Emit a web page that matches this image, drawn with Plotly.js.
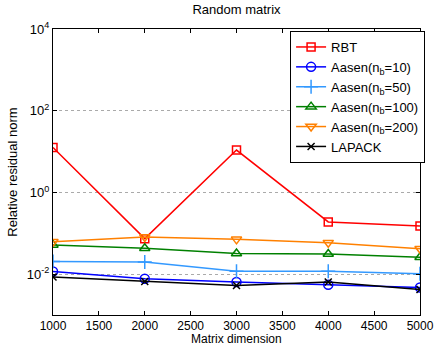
<!DOCTYPE html>
<html><head><meta charset="utf-8">
<script src="https://cdn.plot.ly/plotly-3.0.1.min.js"></script>
<style>html,body{margin:0;padding:0;background:#fff}#chart{width:437px;height:348px}</style>
</head><body><div id="chart"></div>
<script>
var sizes = [1000, 2000, 3000, 4000, 5000];
var rbt = [12.6, 0.074, 10.9, 0.19, 0.15];
var aasen10 = [0.0116, 0.0077, 0.0064, 0.0055, 0.0047];
var aasen50 = [0.0205, 0.0199, 0.0118, 0.0118, 0.0102];
var aasen100 = [0.052, 0.043, 0.032, 0.031, 0.026];
var aasen200 = [0.062, 0.081, 0.071, 0.059, 0.042];
var lapack = [0.0085, 0.0066, 0.0053, 0.0064, 0.0042];
var yTickVals = [1e-2, 1, 1e2, 1e4];
var yTickText = ['10<sup>-2</sup>', '10<sup>0</sup>', '10<sup>2</sup>', '10<sup>4</sup>'];
var xTickVals = [1000, 1500, 2000, 2500, 3000, 3500, 4000, 4500, 5000];

function tr(name, y, color, symbol, size) {
  return {x: sizes, y: y, name: name, type: 'scatter', mode: 'lines+markers',
    line: {color: color, width: 1.5},
    marker: {symbol: symbol, size: size, color: color, line: {color: color, width: 1.5}}};
}
var data = [
  tr('RBT', rbt, '#ff0000', 'square-open', 8),
  tr('Aasen(n<sub>b</sub>=10)', aasen10, '#0000ff', 'circle-open', 9),
  tr('Aasen(n<sub>b</sub>=50)', aasen50, '#3399ff', 'cross-thin-open', 10),
  tr('Aasen(n<sub>b</sub>=100)', aasen100, '#008000', 'triangle-up-open', 9),
  tr('Aasen(n<sub>b</sub>=200)', aasen200, '#ff8000', 'triangle-down-open', 9),
  tr('LAPACK', lapack, '#000000', 'x-thin-open', 7)
];
var layout = {
  width: 437, height: 348,
  margin: {l: 53, r: 17, t: 29, b: 33},
  paper_bgcolor: '#fff', plot_bgcolor: '#fff',
  font: {family: 'Liberation Sans, Arial, sans-serif', size: 13, color: '#000'},
  title: {text: 'Random matrix', x: 0.5, xanchor: 'center', xref: 'paper', y: 0.985, yanchor: 'top', font: {size: 13}},
  showlegend: true,
  legend: {x: 0.646, y: 0.993, xanchor: 'left', yanchor: 'top', bgcolor: '#fff', bordercolor: '#000', borderwidth: 1,
    font: {size: 13}, tracegroupgap: 0, itemwidth: 30},
  xaxis: {range: [1000, 5000], tickvals: xTickVals, ticks: 'inside', ticklen: 4, tickcolor: '#000',
    showline: true, linecolor: '#000', linewidth: 1, mirror: 'ticks', showgrid: false, zeroline: false,
    tickfont: {size: 12}, automargin: false},
  yaxis: {type: 'log', range: [-3, 4], tickvals: yTickVals, ticktext: yTickText, ticks: 'inside', ticklen: 4, tickcolor: '#000',
    showline: true, linecolor: '#000', linewidth: 1, mirror: 'ticks', showgrid: true, gridcolor: '#aaa', griddash: 'dot', gridwidth: 1,
    zeroline: false, tickfont: {size: 13}, automargin: false,
    title: {text: 'Relative residual norm', standoff: 6, font: {size: 13}}},
  annotations: [{text: 'Matrix dimension', xref: 'paper', yref: 'paper', x: 0.5, y: -0.1146, xanchor: 'center', yanchor: 'bottom',
    showarrow: false, font: {size: 12}}]
};
Plotly.newPlot('chart', data, layout, {displayModeBar: false, staticPlot: true});
</script></body></html>
